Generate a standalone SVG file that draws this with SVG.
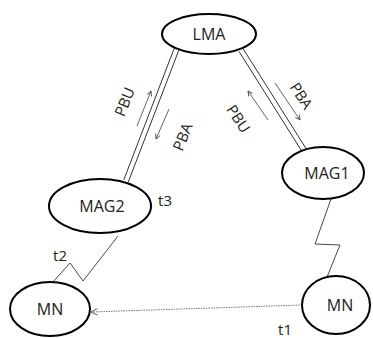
<svg xmlns="http://www.w3.org/2000/svg" width="373" height="338" viewBox="0 0 373 338">
  <defs>
    <marker id="open" viewBox="0 0 10 10" refX="9" refY="5" markerWidth="6" markerHeight="6" orient="auto" markerUnits="userSpaceOnUse">
      <path d="M1,1 L9,5 L1,9" fill="none" stroke="#444" stroke-width="1.4"/>
    </marker>
    <marker id="openDot" viewBox="0 0 10 10" refX="1" refY="5" markerWidth="8" markerHeight="8" orient="auto" markerUnits="userSpaceOnUse">
      <path d="M9,1 L1,5 L9,9" fill="none" stroke="#555" stroke-width="1.2"/>
    </marker>
  </defs>
  <style>
    .node ellipse { fill: #fff; stroke: #000; stroke-width: 2; }
    .node text { font-family: "Open Sans", "Liberation Sans", sans-serif; font-size: 16px; fill: #222; text-anchor: middle; }
    .lbl { font-family: "Open Sans", "Liberation Sans", sans-serif; font-size: 15px; fill: #222; text-anchor: middle; }
    .tm { font-size: 15px; }
    .link { stroke: #333; stroke-width: 1; fill: none; }
    .msg { stroke: #555; stroke-width: 0.9; fill: none; marker-end: url(#open); }
    .zig { stroke: #333; stroke-width: 0.9; fill: none; }
    .dot { stroke: #666; stroke-width: 0.9; fill: none; stroke-dasharray: 1.5 1; marker-start: url(#openDot); }
  </style>

  <g id="connectors">
    <!-- LMA to MAG2 double link -->
    <line class="link" x1="174.7" y1="47.1" x2="123.7" y2="180.1"/>
    <line class="link" x1="179.3" y1="48.9" x2="128.3" y2="181.9"/>
    <!-- LMA to MAG1 double link -->
    <line class="link" x1="243.1" y1="48.7" x2="306.1" y2="148.7"/>
    <line class="link" x1="238.9" y1="51.3" x2="301.9" y2="151.3"/>
    <!-- signalling arrows -->
    <line class="msg" x1="137" y1="126" x2="151" y2="91"/>
    <line class="msg" x1="169" y1="109" x2="156" y2="139"/>
    <line class="msg" x1="275" y1="83" x2="300" y2="120"/>
    <line class="msg" x1="268" y1="120" x2="248" y2="91"/>
    <!-- radio links -->
    <polyline class="zig" points="118,236 83,281 70,263 52,283"/>
    <polyline class="zig" points="331,199 315,244 340,245 327,277"/>
    <!-- handover -->
    <line class="dot" x1="91" y1="312" x2="302" y2="305"/>
  </g>

  <g id="labels">
    <text class="lbl" transform="translate(125,102) rotate(-68)" dy="5">PBU</text>
    <text class="lbl" transform="translate(183,137) rotate(-68)" dy="5">PBA</text>
    <text class="lbl" transform="translate(301,96) rotate(57)" dy="5">PBA</text>
    <text class="lbl" transform="translate(238,119) rotate(57)" dy="5">PBU</text>
    <text class="lbl tm" x="165" y="206">t3</text>
    <text class="lbl tm" x="60" y="261">t2</text>
    <text class="lbl tm" x="285" y="335">t1</text>
  </g>

  <g id="LMA" class="node">
    <ellipse cx="209" cy="34" rx="47" ry="20"/>
    <text x="209" y="40">LMA</text>
  </g>
  <g id="MAG2" class="node">
    <ellipse cx="100" cy="206" rx="51" ry="27"/>
    <text x="102" y="212">MAG2</text>
  </g>
  <g id="MAG1" class="node">
    <ellipse cx="323" cy="173" rx="41" ry="26"/>
    <text x="327" y="179">MAG1</text>
  </g>
  <g id="MN-left" class="node">
    <ellipse cx="50" cy="309" rx="40" ry="27"/>
    <text x="50" y="315">MN</text>
  </g>
  <g id="MN-right" class="node">
    <ellipse cx="336" cy="305" rx="34" ry="29"/>
    <text x="340" y="311">MN</text>
  </g>
</svg>
